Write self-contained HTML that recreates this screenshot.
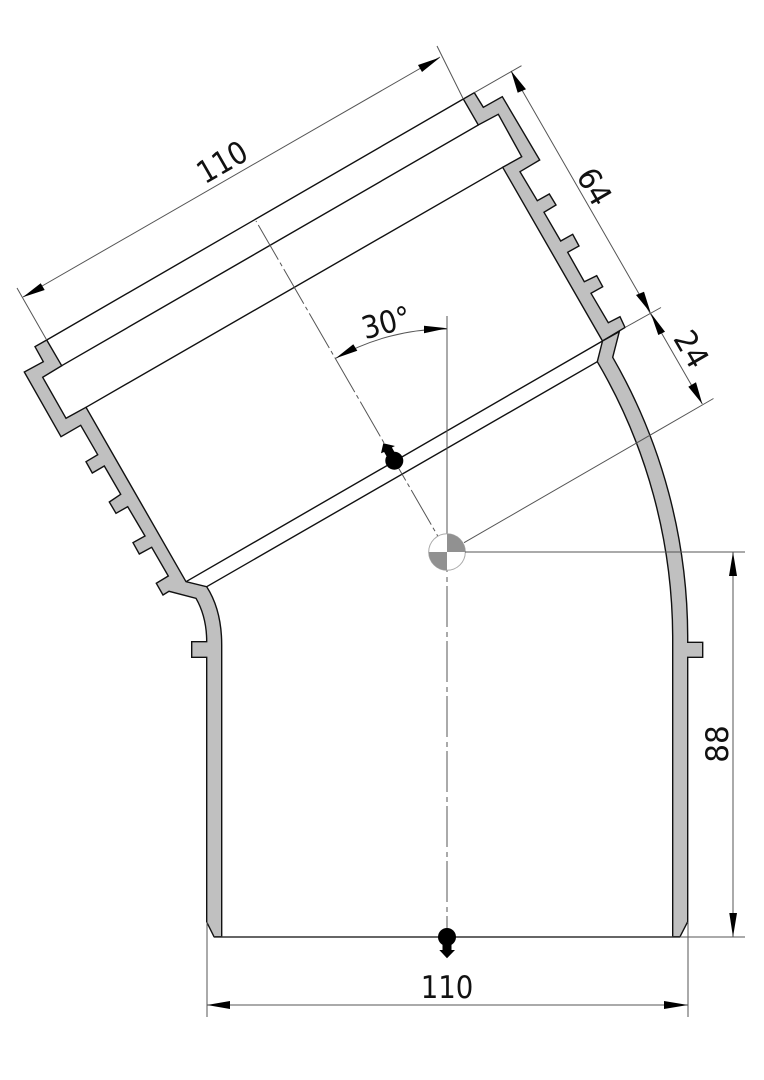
<!DOCTYPE html>
<html>
<head>
<meta charset="utf-8">
<style>
html,body{margin:0;padding:0;background:#fff}
svg{display:block}
text{font-family:"DejaVu Sans","Liberation Sans",sans-serif;font-size:31px;fill:#111}
.d{stroke:#555;stroke-width:1;fill:none}
.o{stroke:#111;stroke-width:1.4;fill:none;stroke-linejoin:miter}
.p{fill:#c0c0c0;stroke:#111;stroke-width:1.4;stroke-linejoin:miter}
.a{fill:#000;stroke:none}
</style>
</head>
<body>
<svg width="764" height="1080" viewBox="0 0 764 1080" xmlns="http://www.w3.org/2000/svg">
<rect width="764" height="1080" fill="#fff"/>

<!-- left wall -->
<path class="p" d="M46.7,340 L35,346.7 L43.3,361.7 L24.3,372 L61,436.7 L80.7,425.3 L97.7,454.7 L86,461.7 L92.3,473 L104.3,466 L120.7,494.3 L109.3,502 L116,513.3 L127.7,506.7 L145,536 L133,542.7 L139.3,554 L151.7,547.3 L168.3,576 L156.3,583.3 L163,595 L169,591.3 L196,598.3 Q206.7,617 206.7,641.7 L191.7,641.7 L191.7,657.3 L206.7,657.3 L206.7,922 L214,936.7 L221.7,936.7 L221.7,645 Q221.7,610 206.7,586.7 L186,581.7 L86,407.3 L66,418.3 L42.7,377.3 L61.7,365.7 Z"/>

<!-- right wall -->
<path class="p" d="M474.3,92.7 L463.3,99 L478.3,125 L498.3,114.3 L521.7,156.7 L502.7,167.3 L602.5,341 L625,327.5 L620,316.7 L608.3,322.7 L591,293.3 L602.7,286.7 L596.7,275.7 L584.3,281.7 L567.7,252.3 L579,246 L572.7,234.3 L560.7,241 L544,212.3 L556,205 L549.3,194 L537.3,200.7 L520,171.7 L539.7,160 L502.3,96.7 L483.3,107.3 Z"/>
<path class="p" d="M602.5,341 L597.3,361.7 A547,547 0 0 1 672.7,638 L672.7,936.7 L680,936.7 L687.7,921.7 L687.7,657.3 L702.7,657.3 L702.7,642.3 L687.7,642.3 L687.7,638 A562,562 0 0 0 612.7,357.3 L619.3,331.7 Z"/>

<!-- pipe lines -->
<path class="o" d="M46.7,340 L463.3,99 M61.7,365.7 L478.3,125 M86,407.3 L502.7,167.3 M186,581.7 L602.5,341 M206.7,586.7 L597.3,361.7"/>
<path d="M214,937 H680" stroke="#333" stroke-width="1.6" fill="none"/>
<path class="d" d="M680,937 H745"/>

<!-- centre lines -->
<path class="d" d="M447,316 V534"/>
<path class="d" d="M447,531 V930" stroke-dasharray="41 5 5 4"/>
<path class="d" d="M256,221 L447,552" stroke-dasharray="40 3.5 4 3.5" stroke-dashoffset="46.4"/>

<!-- centre mark -->
<circle cx="447" cy="552" r="18.3" fill="#fff" stroke="#aaa" stroke-width="1"/>
<path d="M447,552 V533.7 A18.3,18.3 0 0 1 465.3,552 Z" fill="#919191"/>
<path d="M447,552 V570.3 A18.3,18.3 0 0 1 428.7,552 Z" fill="#919191"/>

<!-- extension lines -->
<path class="d" d="M46.7,340 L17,288 M463.3,99 L437,46 M474.3,92.7 L521.5,65.7 M625,327.5 L661,307.5 M464,542.7 L713.5,398.5 M465,552 H745 M207,922 V1017 M688,922 V1017"/>

<!-- dimension lines -->
<path class="d" d="M23,297 L440,57 M511,71 L702.3,404 M733,552 V937 M207,1005 H688"/>
<path class="d" d="M335.7,358.3 A224,224 0 0 1 447,329"/>

<!-- arrowheads -->
<path class="a" d="M22.7,297.3 L40.7,283.3 L44.7,290 Z"/>
<path class="a" d="M440,57.5 L418,65 L422,72 Z"/>
<path class="a" d="M511,70.7 L517.7,92.7 L526,89.3 Z"/>
<path class="a" d="M650.7,313 L636,295 L644,291.7 Z"/>
<path class="a" d="M650.7,313 L658.3,335 L665,331.7 Z"/>
<path class="a" d="M702.3,404 L688.3,386.7 L696,382.3 Z"/>
<path class="a" d="M733,552 L729,576 L737,576 Z"/>
<path class="a" d="M733,937 L729.3,913 L737,913 Z"/>
<path class="a" d="M207,1005 L230,1001 L230,1009 Z"/>
<path class="a" d="M688,1005 L664,1001 L664,1009 Z"/>
<path class="a" d="M447.3,328.3 L424,325.7 L424,333.3 Z"/>
<path class="a" d="M335.7,358.3 L353.3,344.3 L357.3,350.7 Z"/>

<!-- balls with arrows -->
<circle class="a" cx="394.3" cy="460.7" r="9"/>
<path class="a" d="M383.3,443.3 L395,446 L391.9,447.45 L398.2,458.45 L390.4,462.95 L384.1,451.95 L381,453.3 Z"/>
<circle class="a" cx="447" cy="937" r="9"/>
<path class="a" d="M442.5,940 H451.5 V950 H455 L447,958.3 L439.3,950 H442.5 Z"/>

<!-- labels -->
<text text-anchor="middle" transform="translate(447,998) scale(.89,1)">110</text>
<text text-anchor="middle" transform="translate(227.5,171.5) rotate(-30) scale(.89,1)">110</text>
<text text-anchor="middle" transform="translate(585,192) rotate(60) scale(.95,1)">64</text>
<text text-anchor="middle" transform="translate(682,354.5) rotate(60) scale(.95,1)">24</text>
<text text-anchor="middle" transform="translate(389,333) rotate(-15) scale(.9,1)">30°</text>
<text text-anchor="middle" transform="translate(728,744) rotate(-90) scale(.95,1)">88</text>
</svg>
</body>
</html>
